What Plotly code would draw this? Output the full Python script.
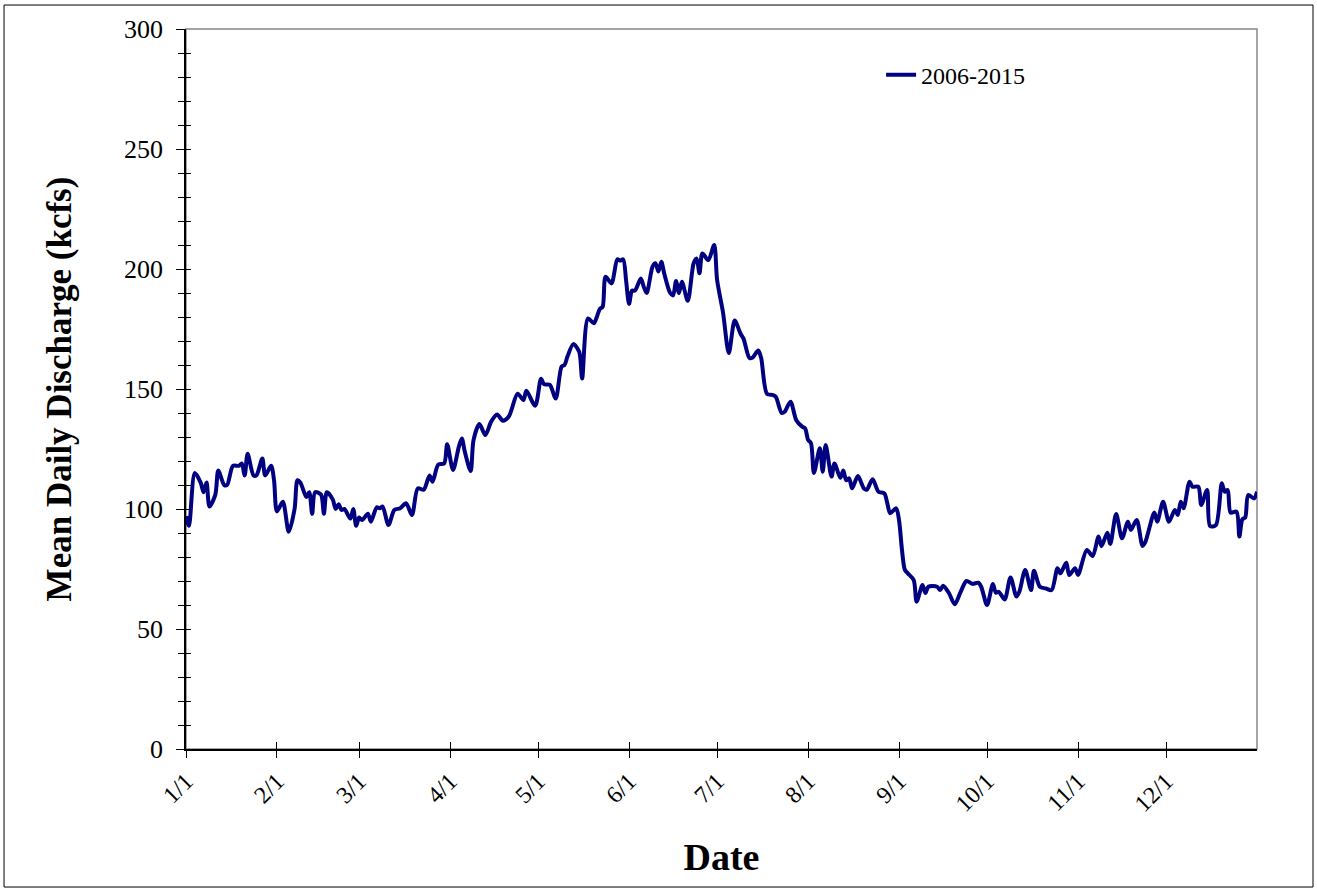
import plotly.graph_objects as go

# Day of year (0 = Jan 1) and mean daily discharge (kcfs)
days = [0, 1, 3, 5, 6, 7, 8, 10, 11, 13, 14, 16, 18, 19, 20, 21, 23, 24, 26, 27,
        29, 30, 31, 33, 35, 37, 38, 39, 41, 42, 43, 44, 46, 47, 48, 50, 51, 52, 53, 54,
        56, 57, 58, 59, 60, 62, 63, 65, 66, 67, 69, 71, 73, 75, 77, 79, 81, 83, 84, 86,
        88, 89, 91, 93, 94, 95, 97, 98, 100, 102, 104, 106, 108, 110, 113, 115, 116, 119, 121, 122,
        124, 126, 128, 129, 130, 132, 134, 135, 137, 139, 140, 141, 142, 143, 145, 147, 148, 149, 150, 151,
        152, 153, 155, 156, 157, 159, 160, 161, 162, 163, 165, 166, 167, 168, 169, 171, 173, 174, 175, 176,
        178, 180, 181, 183, 185, 187, 189, 190, 192, 193, 195, 196, 198, 200, 201, 203, 204, 206, 208, 210,
        211, 212, 213, 214, 216, 217, 218, 220, 221, 223, 224, 225, 226, 227, 229, 231, 232, 234, 236, 238,
        239, 240, 242, 243, 244, 245, 246, 248, 249, 251, 252, 253, 256, 257, 258, 260, 262, 264, 266, 268,
        270, 271, 273, 275, 276, 277, 279, 281, 283, 284, 286, 288, 289, 291, 293, 295, 297, 298, 300, 301,
        303, 304, 307, 309, 311, 312, 314, 315, 317, 319, 321, 322, 324, 326, 327, 330, 331, 333, 335, 337,
        338, 339, 340, 342, 343, 345, 346, 348, 349, 351, 353, 354, 355, 356, 358, 359, 360, 361, 362, 364,
        365]
discharge = [97, 93, 115, 111, 107, 111, 101, 106, 116, 110, 110, 118, 118, 119, 114, 123, 114, 114, 121, 114,
             118, 112, 99, 103, 90.5, 100, 112, 111, 105, 107, 98, 107, 106, 98, 107, 104, 100, 102, 99.6, 100,
             96, 100, 93, 96.5, 95.4, 98, 94.7, 100.7, 100.3, 101, 93.3, 99.6, 100.3, 102.4, 97.5, 108.6, 108, 114, 111.4, 118.5,
             119, 127, 116.3, 126, 129.4, 124, 115.8, 128.8, 135.4, 130.8, 136.4, 139.4, 136.8, 138.5, 148, 145.4, 149.3, 143, 154.3, 152,
             151.7, 146, 159.3, 160, 163.5, 168.7, 165.5, 154.4, 179.4, 177.4, 180, 183.3, 184.3, 196.8, 194, 204, 203.5, 204, 195, 185.4,
             191, 191, 196, 192.6, 190, 201, 202.4, 199, 203, 198, 190, 189, 195, 190, 194.7, 186.8, 202.4, 204.4, 198.2, 206.5,
             203.7, 210, 195.4, 182, 165, 178.5, 173, 171, 163, 163, 166, 163, 148, 147.5, 146.8, 140, 140.5, 144.7, 137, 134.3,
             133.6, 128.8, 127.4, 115, 125.3, 115.5, 126.7, 113.5, 119, 113, 116, 112, 112.8, 108.6, 113.7, 108.6, 108, 112.4, 107.2, 106.5,
             102.4, 98.2, 100.3, 95.4, 83, 74.6, 73.2, 70.4, 61.4, 68.3, 65, 67.6, 67.6, 66.2, 68, 65, 60.3, 65.5, 70, 68.8,
             69.3, 67.6, 60, 68.8, 65.1, 65.5, 62.3, 71.5, 63.5, 65.5, 74.6, 66.2, 74.3, 67.6, 66.9, 66.2, 75.3, 73.2, 77.6, 72.5,
             75.3, 72.5, 82.9, 80.4, 88.5, 84.5, 90.1, 85.4, 97.9, 87.8, 94.7, 91.3, 95.4, 84.6, 86.4, 98.5, 94.7, 103, 94.7, 99.6,
             97.5, 103, 100.3, 111.4, 109.3, 109.3, 101.7, 107.9, 92.9, 93.3, 110.7, 107.2, 107.9, 98.5, 98.9, 88.5, 95.7, 96.5, 105.8, 104.4,
             107.2]

month_start_days = [0, 31, 59, 90, 120, 151, 181, 212, 243, 273, 304, 334]
month_labels = ["1/1", "2/1", "3/1", "4/1", "5/1", "6/1", "7/1", "8/1", "9/1", "10/1", "11/1", "12/1"]
y_ticks = [0, 50, 100, 150, 200, 250, 300]
series_name = "2006-2015"

FONT = "Liberation Serif"
NAVY = "#000080"

fig = go.Figure()
fig.add_trace(go.Scatter(
    x=days, y=discharge, mode="lines", name=series_name,
    line=dict(color=NAVY, width=4, shape="spline", smoothing=0.8),
))
# invisible trace on the overlay axes so they render
fig.add_trace(go.Scatter(x=[0], y=[0], xaxis="x2", yaxis="y2", mode="markers",
                         marker=dict(opacity=0), showlegend=False, hoverinfo="skip"))

fig.update_layout(
    width=1317, height=890,
    margin=dict(l=186, r=60, t=29, b=141),
    paper_bgcolor="white", plot_bgcolor="white",
    font=dict(family=FONT, color="black", size=24),
    showlegend=True,
    legend=dict(x=0.649, y=0.936, xanchor="left", yanchor="middle",
                bgcolor="rgba(0,0,0,0)", font=dict(family=FONT, size=24),
                itemwidth=30),
    xaxis=dict(range=[0, 365], tickmode="array", tickvals=month_start_days, ticktext=month_labels,
               tickangle=-45, ticks="outside", ticklen=7, tickwidth=1, tickcolor="black",
               showline=True, linecolor="black", linewidth=1.5, showgrid=False, zeroline=False,
               tickfont=dict(family=FONT, size=24),
               title=dict(text="<b>Date</b>", font=dict(family=FONT, size=38), standoff=28)),
    yaxis=dict(range=[0, 300], tickmode="array", tickvals=y_ticks,
               ticks="outside", ticklen=8, tickwidth=1, tickcolor="black", ticklabelstandoff=8,
               minor=dict(dtick=10, ticks="outside", ticklen=6, tickwidth=1, tickcolor="black", showgrid=False),
               showline=True, linecolor="black", linewidth=1.5, showgrid=False, zeroline=False,
               tickfont=dict(family=FONT, size=26),
               title=dict(text="<b>Mean Daily Discharge (kcfs)</b>", font=dict(family=FONT, size=35), standoff=42)),
    xaxis2=dict(overlaying="x", range=[0, 365], tickmode="array", tickvals=month_start_days,
                ticks="inside", ticklen=7, tickcolor="black", showticklabels=False,
                showgrid=False, zeroline=False, showline=False, side="bottom"),
    yaxis2=dict(overlaying="y", range=[0, 300], tickmode="array", tickvals=y_ticks,
                ticks="inside", ticklen=5, tickcolor="black", showticklabels=False,
                minor=dict(dtick=10, ticks="inside", ticklen=5, tickcolor="black", showgrid=False),
                showgrid=False, zeroline=False, showline=False, side="left"),
    shapes=[
        dict(type="rect", xref="paper", yref="paper", x0=0, x1=1, y0=0, y1=1,
             line=dict(color="#888888", width=1.5), layer="below"),
        dict(type="rect", xref="paper", yref="paper", x0=-0.1699, x1=1.0523, y0=-0.1917, y1=1.0333,
             line=dict(color="black", width=1), layer="below"),
    ],
)

fig.write_html("out.html", config={"displayModeBar": False},
               post_script="document.body.style.margin='0px';")
